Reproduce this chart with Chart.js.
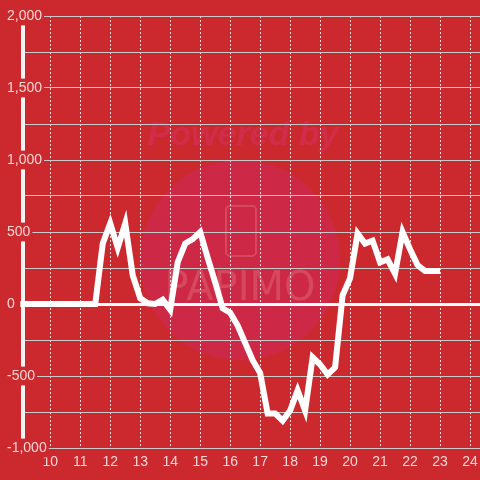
<!DOCTYPE html>
<html lang="en">
<head>
    <meta charset="UTF-8">
    <title>Line chart</title>
    <script src="https://cdn.jsdelivr.net/npm/chart.js"></script>
    <style>
        html, body { margin: 0; padding: 0; background: #cc292e; }
        canvas { display: block; }
    </style>
</head>
<body>
    <canvas id="chart" width="480" height="480"></canvas>

    <script>
        // data (hour of day, value)
        const hours = [9, 9.25, 9.5, 9.75, 10, 10.25, 10.5, 10.75, 11, 11.25, 11.5, 11.75,
            12, 12.25, 12.5, 12.75, 13, 13.25, 13.5, 13.75, 14, 14.25, 14.5, 14.75,
            15, 15.25, 15.5, 15.75, 16, 16.25, 16.5, 16.75, 17, 17.25, 17.5, 17.75,
            18, 18.25, 18.5, 18.75, 19, 19.25, 19.5, 19.75, 20, 20.25, 20.5, 20.75,
            21, 21.25, 21.5, 21.75, 22, 22.25, 22.5, 22.75, 23];
        const values = [0, 0, 0, 0, 0, 0, 0, 0, 0, 0, 0, 420,
            560, 390, 560, 200, 40, 5, 0, 30, -40, 290, 420, 450,
            500, 320, 150, -30, -60, -150, -270, -390, -480, -760, -760, -810,
            -740, -600, -740, -370, -420, -490, -440, 60, 180, 490, 420, 440,
            290, 310, 210, 500, 380, 270, 230, 230, 230];
        const xTicks = [10, 11, 12, 13, 14, 15, 16, 17, 18, 19, 20, 21, 22, 23, 24];

        const BG = '#cc292e';
        const LABEL = '#f3d6d6';

        // red background + faint "Powered by PAPIMO" watermark
        const backdrop = {
            id: 'backdrop',
            beforeDraw(chart) {
                const ctx = chart.ctx;
                ctx.save();
                ctx.fillStyle = BG;
                ctx.fillRect(0, 0, chart.width, chart.height);
                ctx.fillStyle = '#cd2947';
                ctx.beginPath();
                ctx.arc(240, 260, 100, 0, Math.PI * 2);
                ctx.fill();
                ctx.fillStyle = '#d12c49';
                ctx.font = 'italic bold 34px "Liberation Sans"';
                ctx.textAlign = 'center';
                ctx.textBaseline = 'middle';
                ctx.fillText('Powered by', 243, 136);
                ctx.strokeStyle = '#d6485e';
                ctx.lineWidth = 2;
                ctx.beginPath();
                ctx.roundRect(226, 206, 30, 50, 4);
                ctx.stroke();
                ctx.fillStyle = '#d6485e';
                ctx.font = '40px "DejaVu Sans"';
                ctx.fillText('PAPIMO', 240, 290);
                ctx.restore();
            }
        };

        new Chart(document.getElementById('chart'), {
            type: 'line',
            data: {
                datasets: [{
                    data: hours.map((h, i) => ({ x: h, y: values[i] })),
                    borderColor: '#ffffff',
                    borderWidth: 6,
                    pointRadius: 0,
                    tension: 0,
                    fill: false,
                    clip: false
                }]
            },
            options: {
                responsive: false,
                animation: false,
                devicePixelRatio: 1,
                layout: { padding: { top: 16, left: 0, right: 0, bottom: 0 } },
                plugins: {
                    legend: { display: false },
                    tooltip: { enabled: false }
                },
                scales: {
                    x: {
                        type: 'linear',
                        min: 9.09,
                        max: 24.333,
                        afterBuildTicks: s => { s.ticks = xTicks.map(v => ({ value: v })); },
                        afterFit: s => { s.height = 32; s.paddingLeft = 0; s.paddingRight = 0; },
                        grid: {
                            color: '#ecdede',
                            lineWidth: 1,
                            drawTicks: false
                        },
                        border: { display: false, dash: [2, 2] },
                        ticks: {
                            color: LABEL,
                            padding: 6,
                            font: { family: 'Liberation Sans', size: 14 },
                            maxRotation: 0,
                            autoSkip: false
                        }
                    },
                    y: {
                        min: -1000,
                        max: 2000,
                        afterFit: s => { s.width = 23; },
                        grid: {
                            color: c => c.tick.value === 0 ? '#ffffff' : '#c9c9c9',
                            lineWidth: c => c.tick.value === 0 ? 3 : 1,
                            drawTicks: false
                        },
                        border: { display: true, color: '#f4f4f4', width: 4 },
                        ticks: {
                            stepSize: 250,
                            mirror: true,
                            crossAlign: 'near',
                            padding: -16,
                            color: LABEL,
                            font: { family: 'Liberation Sans', size: 14 },
                            showLabelBackdrop: true,
                            backdropColor: c => c.tick.value % 500 === 0 ? BG : 'rgba(0,0,0,0)',
                            backdropPadding: { top: 1, bottom: 1, left: 2, right: 2 },
                            callback: v => v % 500 === 0 ? v.toLocaleString('en-US') : ''
                        }
                    }
                }
            },
            plugins: [backdrop]
        });
    </script>
</body>
</html>
